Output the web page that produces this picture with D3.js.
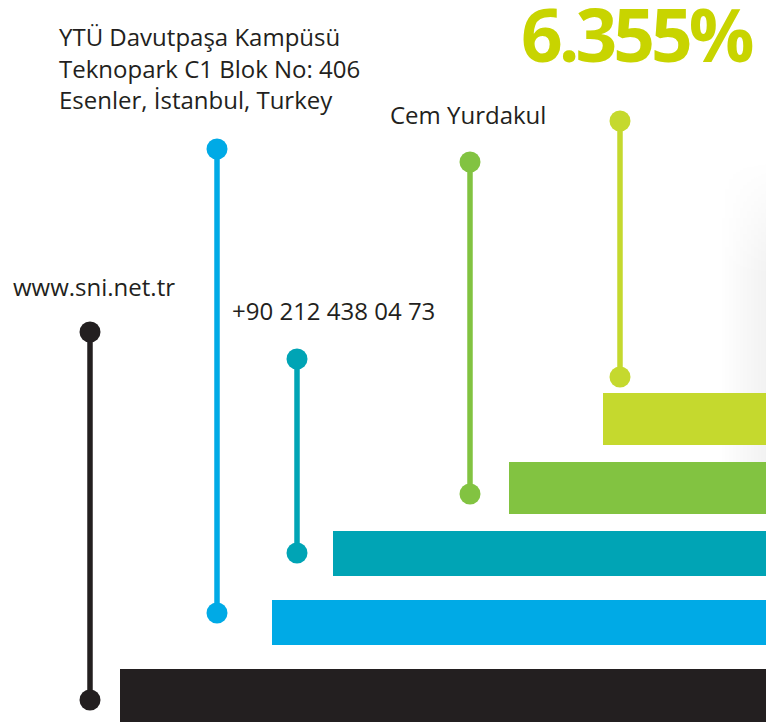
<!DOCTYPE html>
<html>
<head>
<meta charset="utf-8">
<script src="https://cdn.jsdelivr.net/npm/d3@7"></script>
<style>
  html, body { margin: 0; padding: 0; background: #fff; }
  svg { display: block; }
  .label { font-family: "Open Sans", "Noto Sans", sans-serif; font-size: 24px; fill: #231f20; }
  .big { font-family: "Open Sans", "Noto Sans", sans-serif; font-weight: 700; font-size: 73px; letter-spacing: -4px; fill: #c8d400; }
</style>
</head>
<body>
<div id="vis"></div>
<script>
// rows from bottom to top
var rows = ['web', 'address', 'phone', 'contact', 'share'];
var rowColors = ['#231f20', '#00aae6', '#00a4b5', '#82c341', '#c5d92e'];

// bar lengths (measured from the right edge)
var barValues = [646, 494, 433, 257, 163];

// pins: x position value, top and bottom heights (measured from the bottom edge)
var pinX = [90, 217, 297, 470, 620];
var pinTop = [390, 573, 363, 560, 601];
var pinBottom = [22, 109, 169, 228, 345];

// texts
var addressLines = ['YTÜ Davutpaşa Kampüsü', 'Teknopark C1 Blok No: 406', 'Esenler, İstanbul, Turkey'];
var webText = 'www.sni.net.tr';
var phoneText = '+90 212 438 04 73';
var contactText = 'Cem Yurdakul';
var shareText = '6.355%';

var width = 766, height = 722;

var svg = d3.select('#vis').append('svg')
    .attr('width', width)
    .attr('height', height);

// faint page shadow on the right edge
var defs = svg.append('defs');
var grad = defs.append('linearGradient').attr('id', 'shadowX');
grad.append('stop').attr('offset', '0%').attr('stop-color', '#000').attr('stop-opacity', 0);
grad.append('stop').attr('offset', '100%').attr('stop-color', '#000').attr('stop-opacity', 0.05);
var gradV = defs.append('linearGradient').attr('id', 'shadowMask').attr('x1', 0).attr('x2', 0).attr('y1', 0).attr('y2', 1);
gradV.append('stop').attr('offset', '0%').attr('stop-color', '#fff').attr('stop-opacity', 0);
gradV.append('stop').attr('offset', '35%').attr('stop-color', '#fff').attr('stop-opacity', 1);
gradV.append('stop').attr('offset', '100%').attr('stop-color', '#fff').attr('stop-opacity', 1);
defs.append('mask').attr('id', 'fadeMask')
    .append('rect').attr('x', 720).attr('y', 160).attr('width', 46).attr('height', 330)
    .attr('fill', 'url(#shadowMask)');
svg.append('rect')
    .attr('x', 720).attr('y', 160).attr('width', 46).attr('height', 330)
    .attr('fill', 'url(#shadowX)')
    .attr('mask', 'url(#fadeMask)');

// scales
var xScale = d3.scaleLinear().domain([0, width]).range([width, 0]); // bar length from right
var pxScale = d3.scaleLinear().domain([0, width]).range([0, width]);
var yScale = d3.scaleLinear().domain([0, height]).range([height, 0]);

var barHeights = {web: 53, address: 45, phone: 45, contact: 52, share: 52};

// bars
svg.selectAll('.bar')
    .data(rows)
    .enter().append('rect')
    .attr('class', 'bar')
    .attr('x', function(d, i) { return xScale(barValues[i]); })
    .attr('y', function(d, i) { return 393 + (rows.length - 1 - i) * 69; })
    .attr('width', function(d, i) { return barValues[i]; })
    .attr('height', function(d) { return barHeights[d]; })
    .attr('fill', function(d, i) { return rowColors[i]; });

// pins
var pins = svg.selectAll('.pin')
    .data(rows)
    .enter().append('g')
    .attr('class', 'pin');

pins.append('line')
    .attr('x1', function(d, i) { return pxScale(pinX[i]); })
    .attr('x2', function(d, i) { return pxScale(pinX[i]); })
    .attr('y1', function(d, i) { return yScale(pinTop[i]); })
    .attr('y2', function(d, i) { return yScale(pinBottom[i]); })
    .attr('stroke', function(d, i) { return rowColors[i]; })
    .attr('stroke-width', 5.5);

pins.append('circle')
    .attr('cx', function(d, i) { return pxScale(pinX[i]); })
    .attr('cy', function(d, i) { return yScale(pinTop[i]); })
    .attr('r', 10.5)
    .attr('fill', function(d, i) { return rowColors[i]; });

pins.append('circle')
    .attr('cx', function(d, i) { return pxScale(pinX[i]); })
    .attr('cy', function(d, i) { return yScale(pinBottom[i]); })
    .attr('r', 10.5)
    .attr('fill', function(d, i) { return rowColors[i]; });

// texts
svg.append('text').attr('class', 'label').attr('x', 13).attr('y', 296).text(webText);

svg.selectAll('.addr')
    .data(addressLines)
    .enter().append('text')
    .attr('class', 'label addr')
    .attr('x', 59)
    .attr('y', function(d, i) { return 46 + i * 31.5; })
    .text(function(d) { return d; });

svg.append('text').attr('class', 'label').attr('x', 232).attr('y', 320).text(phoneText);
svg.append('text').attr('class', 'label').attr('x', 390).attr('y', 124).text(contactText);
svg.append('text').attr('class', 'big').attr('x', 521).attr('y', 62).text(shareText);
</script>
</body>
</html>
